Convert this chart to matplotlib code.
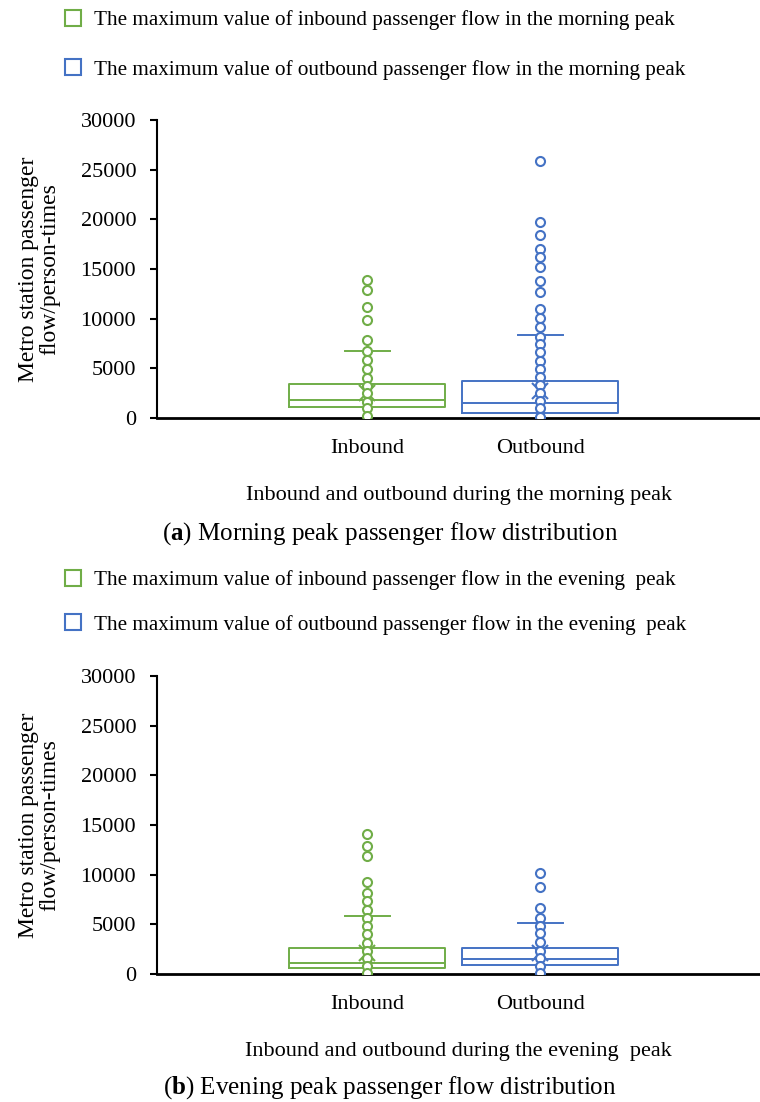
import matplotlib
matplotlib.use('Agg')
from matplotlib import pyplot as plt
from matplotlib.lines import Line2D

plt.rcParams['font.family'] = ['Liberation Serif', 'DejaVu Serif']
plt.rcParams['mathtext.fontset'] = 'custom'
plt.rcParams['mathtext.bf'] = 'Liberation Serif:bold'
plt.rcParams['mathtext.rm'] = 'Liberation Serif'

GREEN = '#70AD47'
BLUE = '#4472C4'

categories = ['Inbound', 'Outbound']
y_ticks = [0, 5000, 10000, 15000, 20000, 25000, 30000]

# morning peak, all stations as drawn (inner points + outliers)
am_in_points = [13900, 12900, 11200, 9900, 7900, 6750, 5850, 4950, 4050, 3250, 2500, 1600, 1000, 200]
am_out_points = [25900, 19750, 18400, 17000, 16200, 15250, 13750, 12650, 10950, 10050, 9200,
                 8200, 7450, 6600, 5750, 4900, 4150, 3300, 2500, 1700, 1000, 150]
am_q1 = [1100, 500]
am_med = [1800, 1500]
am_q3 = [3400, 3700]
am_whishi = [6750, 8350]
am_whislo = [0, 0]
am_mean = [2550, 2750]

# evening peak
pm_in_points = [14100, 12900, 11900, 9300, 8150, 7300, 6450, 5600, 4850, 4050, 3150, 2350, 1600, 800, 100]
pm_out_points = [10150, 8800, 6600, 5600, 4850, 4100, 3250, 2350, 1600, 800, 100]
pm_q1 = [600, 900]
pm_med = [1100, 1500]
pm_q3 = [2600, 2600]
pm_whishi = [5850, 5150]
pm_whislo = [0, 0]
pm_mean = [2100, 2100]

W, H = 760, 1102
FS = 16


def draw_panel(ax, points, q1, med, q3, whislo, whishi, mean, peak):
    colors = [GREEN, BLUE]
    for i in range(2):
        c = colors[i]
        st = dict(q1=q1[i], med=med[i], q3=q3[i], whislo=whislo[i],
                  whishi=whishi[i], mean=mean[i], fliers=[])
        bx = ax.bxp([st], positions=[i + 1], widths=0.9, capwidths=0.26,
                    showmeans=True, showfliers=False,
                    boxprops=dict(color=c, lw=1.4),
                    medianprops=dict(color=c, lw=1.4),
                    whiskerprops=dict(color=c, lw=1.4),
                    capprops=dict(color=c, lw=1.4),
                    meanprops=dict(marker='x', markeredgecolor=c, markersize=12, mew=1.5))
        bx['caps'][0].set_visible(False)
        ax.plot([i + 1] * len(points[i]), points[i], ls='none', marker='o', ms=6.5,
                mfc='white', mec=c, mew=1.5, zorder=4)

    ax.set_xlim(-0.214, 3.27)
    ax.set_ylim(0, 30000)
    ax.set_yticks(y_ticks)
    ax.set_xticks([1, 2])
    ax.set_xticklabels(categories)
    ax.tick_params(axis='x', length=0, pad=15, labelsize=FS)
    ax.tick_params(axis='y', length=5, width=1.5, pad=10, labelsize=FS)
    ax.spines['top'].set_visible(False)
    ax.spines['right'].set_visible(False)
    ax.spines['left'].set_linewidth(1.5)
    ax.spines['bottom'].set_linewidth(2)
    ax.set_xlabel(f'Inbound and outbound during the {peak} peak', fontsize=FS, labelpad=20)
    ax.set_ylabel('Metro station passenger\nflow/person-times', fontsize=FS + 1,
                  multialignment='center', linespacing=1.05)
    ax.yaxis.set_label_coords(-0.16, 0.5)

    handles = [Line2D([], [], ls='none', marker='s', ms=11, mfc='none', mec=GREEN, mew=1.5),
               Line2D([], [], ls='none', marker='s', ms=11, mfc='none', mec=BLUE, mew=1.5)]
    labels = [f'The maximum value of inbound passenger flow in the {peak} peak',
              f'The maximum value of outbound passenger flow in the {peak} peak']
    return handles, labels


fig = plt.figure(figsize=(W / 100, H / 100), dpi=100)
ax1 = fig.add_axes([157 / W, 1 - 418 / H, 603 / W, 298 / H])
ax2 = fig.add_axes([157 / W, 1 - 974 / H, 603 / W, 298 / H])

h1, l1 = draw_panel(ax1, [am_in_points, am_out_points], am_q1, am_med, am_q3,
                    am_whislo, am_whishi, am_mean, 'morning')
h2, l2 = draw_panel(ax2, [pm_in_points, pm_out_points], pm_q1, pm_med, pm_q3,
                    pm_whislo, pm_whishi, pm_mean, 'evening ')

ax1.legend(h1, l1, loc='upper left', bbox_to_anchor=(52 / W, 1 - 2 / H), bbox_transform=fig.transFigure,
           frameon=False, fontsize=15.2, labelspacing=1.4, handletextpad=0.4, handlelength=1.2,
           borderaxespad=0)
ax2.legend(h2, l2, loc='upper left', bbox_to_anchor=(52 / W, 1 - 562 / H), bbox_transform=fig.transFigure,
           frameon=False, fontsize=15.2, labelspacing=1.15, handletextpad=0.4, handlelength=1.2,
           borderaxespad=0)

fig.text(390 / W, 1 - 534 / H, r'($\mathbf{a}$) Morning peak passenger flow distribution',
         ha='center', va='center', fontsize=18)
fig.text(390 / W, 1 - 1088 / H, r'($\mathbf{b}$) Evening peak passenger flow distribution',
         ha='center', va='center', fontsize=18)

fig.savefig('out.png', dpi=100)
